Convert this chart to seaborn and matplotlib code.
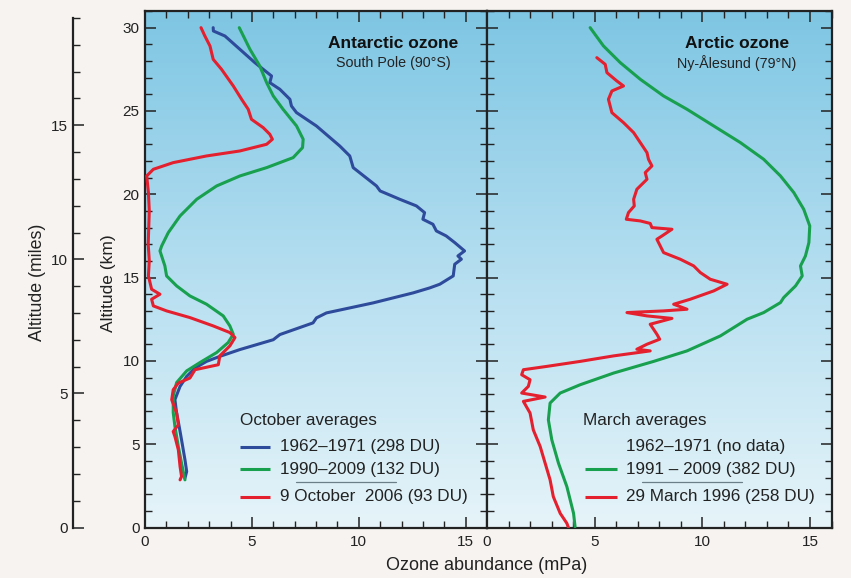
import numpy as np
import matplotlib
matplotlib.use("Agg")
import matplotlib.pyplot as plt
import seaborn as sns
from matplotlib.colors import LinearSegmentedColormap
from matplotlib.ticker import MultipleLocator

sns.set_style("ticks")
plt.rcParams['font.family'] = ['Liberation Sans', 'DejaVu Sans']

# ---------------- data (ozone abundance mPa, altitude km) ----------------
ant_1962_x = [3.19, 3.2, 3.74, 4.44, 5.14, 5.92, 5.84, 6.31, 6.78, 6.85, 7.09, 8.02, 9.11, 9.58, 9.74,
              10.83, 11.0, 11.92, 12.70, 13.08, 13.0, 13.47, 13.63, 14.09, 14.49, 14.95, 14.64, 14.8,
              14.49, 14.42, 13.79, 13.32, 12.54, 10.67, 8.49, 8.02, 7.86, 6.31, 6.0, 4.44, 3.5, 2.88,
              2.34, 1.95, 1.64, 1.40, 1.48, 1.60, 1.71, 1.87, 1.95, 1.87]
ant_1962_y = [30.0, 29.8, 29.5, 28.7, 27.9, 27.1, 26.7, 26.3, 25.7, 25.3, 24.9, 24.1, 22.9, 22.3, 21.6,
              20.5, 20.2, 19.7, 19.3, 18.9, 18.5, 18.2, 17.8, 17.5, 17.1, 16.6, 16.3, 16.1,
              15.8, 15.1, 14.6, 14.38, 14.08, 13.48, 12.88, 12.58, 12.28, 11.58, 11.27, 10.68, 10.27, 9.97,
              9.57, 9.07, 8.47, 7.67, 6.87, 6.06, 5.26, 4.06, 3.36, 2.96]

ant_1990_x = [4.41, 4.91, 5.37, 5.69, 6.0, 6.46, 7.09, 7.40, 7.37, 6.93, 5.69, 4.44, 3.35, 2.42, 1.64,
              1.09, 0.78, 0.70, 0.93, 1.01, 1.48, 1.79, 2.10, 2.88, 3.66, 3.97, 4.13, 3.89, 3.35, 2.57,
              1.95, 1.48, 1.32, 1.32, 1.40, 1.56, 1.71, 1.87]
ant_1990_y = [30.0, 28.7, 27.7, 26.7, 25.9, 25.1, 24.1, 23.3, 22.8, 22.2, 21.6, 21.1, 20.5, 19.7, 18.7,
              17.7, 16.9, 16.6, 15.7, 15.1, 14.5, 14.2, 13.9, 13.4, 12.7, 12.1, 11.6, 11.1, 10.5, 9.9,
              9.4, 8.7, 7.9, 6.9, 6.06, 4.86, 3.86, 2.86]

ant_2006_x = [2.62, 2.80, 3.04, 3.19, 3.58, 4.13, 4.52, 4.83, 4.98, 5.53, 5.84, 5.96, 5.69, 4.44, 2.88,
              1.32, 0.39, 0.08, 0.16, 0.20, 0.15, 0.20, 0.16, 0.31, 0.70, 0.31, 0.39, 1.01, 2.10, 3.19,
              3.97, 4.21, 3.97, 3.50, 3.43, 2.34, 2.10, 1.56, 1.32, 1.25, 1.48, 1.56, 1.32, 1.40, 1.56,
              1.64, 1.71, 1.64]
ant_2006_y = [30.0, 29.5, 28.9, 28.1, 27.5, 26.5, 25.7, 25.1, 24.5, 24.0, 23.6, 23.3, 23.0, 22.6, 22.3,
              21.9, 21.5, 21.1, 20.1, 19.0, 17.0, 16.0, 15.1, 14.3, 14.0, 13.7, 13.3, 13.0, 12.6, 12.1,
              11.7, 11.4, 10.9, 10.3, 9.77, 9.47, 8.97, 8.67, 8.27, 7.67, 6.87, 6.16, 5.76, 5.46, 4.66,
              3.66, 3.06, 2.86]

arc_1991_x = [4.79, 5.41, 6.19, 7.12, 8.20, 9.29, 10.53, 11.77, 12.85, 13.63, 14.25, 14.71, 14.99, 14.95,
              14.79, 14.56, 14.64, 14.33, 13.78, 13.63, 12.85, 12.08, 10.84, 9.29, 7.74, 5.88, 4.33,
              3.40, 2.93, 2.85, 3.01, 3.32, 3.71, 4.02, 4.09]
arc_1991_y = [30.0, 28.9, 27.9, 26.9, 25.9, 25.1, 24.1, 23.1, 22.1, 21.1, 20.1, 19.1, 18.1, 17.1,
              16.3, 15.7, 15.1, 14.5, 13.8, 13.5, 12.9, 12.5, 11.5, 10.6, 9.97, 9.27, 8.57,
              8.07, 7.47, 6.46, 5.26, 3.86, 2.45, 0.85, 0.05]

arc_1996_x = [5.10, 5.49, 5.57, 6.03, 6.34, 5.80, 5.64, 5.80, 6.34, 6.81, 7.12, 7.43, 7.50, 7.66, 7.35,
              7.43, 6.96, 6.81, 6.84, 6.57, 6.47, 7.12, 7.58, 7.66, 8.59, 8.13, 7.89, 8.20, 8.98, 9.60,
              9.91, 10.37, 11.15, 10.53, 9.44, 8.67, 9.29, 8.20, 6.50, 7.43, 8.59, 7.58, 7.89, 8.02,
              7.43, 6.96, 7.58, 5.88, 4.33, 2.78, 1.69, 1.61, 2.0, 1.92, 1.61, 2.70, 1.69, 2.0, 2.15,
              2.47, 2.70, 2.93, 3.08, 3.40, 3.71, 3.78]
arc_1996_y = [28.2, 27.8, 27.3, 26.8, 26.5, 26.2, 25.7, 24.9, 24.3, 23.7, 23.1, 22.5, 22.1, 21.7, 21.3,
              20.9, 20.3, 19.7, 19.3, 18.9, 18.5, 18.4, 18.25, 18.0, 17.9, 17.5, 17.3, 16.5, 16.1, 15.7,
              15.3, 14.9, 14.6, 14.2, 13.7, 13.4, 13.1, 13.0, 12.9, 12.7, 12.55, 12.2, 11.6, 11.3,
              11.0, 10.7, 10.6, 10.3, 9.97, 9.67, 9.47, 9.17, 8.87, 8.47, 8.07, 7.83, 7.57, 6.87, 5.86,
              4.86, 3.86, 2.86, 1.85, 0.85, 0.25, 0.0]

x_ticks = [0, 5, 10, 15]
km_ticks = [0, 5, 10, 15, 20, 25, 30]
mile_ticks = [0, 5, 10, 15]

ant_title = "Antarctic ozone"
ant_sub = "South Pole (90°S)"
arc_title = "Arctic ozone"
arc_sub = "Ny-Ålesund (79°N)"
ant_leg_title = "October averages"
arc_leg_title = "March averages"
ant_labels = ["1962\u20131971 (298 DU)", "1990\u20132009 (132 DU)", "9 October  2006 (93 DU)"]
arc_labels = ["1962\u20131971 (no data)", "1991 \u2013 2009 (382 DU)", "29 March 1996 (258 DU)"]

BLUE = "#2e4b9b"
GREEN = "#18a04e"
RED = "#e4202f"
BG = "#f6f3f0"

KM_PER_MILE = 1.609344

# ---------------- figure ----------------
W, H = 851, 578
fig = plt.figure(figsize=(W / 100, H / 100), dpi=100, facecolor=BG)
bot = (H - 527.5) / H
hgt = 516.5 / H
axL = fig.add_axes([145 / W, bot, 342 / W, hgt])
axR = fig.add_axes([487 / W, bot, 344.5 / W, hgt])
axM = fig.add_axes([73 / W, bot, 0.0001, hgt])

cmap = LinearSegmentedColormap.from_list("sky", ["#e6f4f9", "#b4def0", "#7ec6e3"])
grad = np.linspace(0, 1, 256).reshape(-1, 1)

for ax in (axL, axR):
    ax.imshow(grad, extent=[0, 16, 0, 31], origin="lower", aspect="auto", cmap=cmap, zorder=0)
    ax.set_xlim(0, 16)
    ax.set_ylim(0, 31)
    ax.set_xticks(x_ticks)
    ax.set_yticks(km_ticks)
    ax.xaxis.set_minor_locator(MultipleLocator(1))
    ax.yaxis.set_minor_locator(MultipleLocator(1))
    ax.tick_params(which="both", direction="in", top=True, right=True, color="#222222",
                   labelsize=11, labelcolor="#222222")
    ax.tick_params(which="major", length=8, width=1.1)
    ax.tick_params(which="minor", length=5, width=1.0)
    ax.tick_params(axis="x", pad=5.5)
    ax.tick_params(axis="y", pad=4)
    for s in ax.spines.values():
        s.set_linewidth(1.6)
        s.set_color("#222222")
    ax.set_xlabel("")
    ax.set_ylabel("")

axR.tick_params(labelleft=False)

lw = 2.2
kw = dict(sort=False, estimator=None, linewidth=lw, solid_joinstyle="round", zorder=3)
sns.lineplot(x=ant_1962_x, y=ant_1962_y, color=BLUE, ax=axL, **kw)
sns.lineplot(x=ant_1990_x, y=ant_1990_y, color=GREEN, ax=axL, **kw)
sns.lineplot(x=ant_2006_x, y=ant_2006_y, color=RED, ax=axL, **kw)
sns.lineplot(x=arc_1991_x, y=arc_1991_y, color=GREEN, ax=axR, **kw)
sns.lineplot(x=arc_1996_x, y=arc_1996_y, color=RED, ax=axR, **kw)
for ax in (axL, axR):
    ax.set_xlabel("")
    ax.set_ylabel("")

# titles
for ax, t, s in ((axL, ant_title, ant_sub), (axR, arc_title, arc_sub)):
    ax.text(0.725, 0.938, t, transform=ax.transAxes, ha="center", va="center",
            fontsize=12.5, fontweight="bold", color="#111111")
    ax.text(0.725, 0.899, s, transform=ax.transAxes, ha="center", va="center",
            fontsize=10.3, color="#222222")

# legends
def legend(ax, title, labels, colors, x_title, x_line0, x_line1, x_text, sep):
    ax.text(x_title, 0.208, title, transform=ax.transAxes, ha="left", va="center",
            fontsize=12.3, color="#222222")
    ys = [0.156, 0.113, 0.060]
    for y, lab, c in zip(ys, labels, colors):
        if c is not None:
            ax.plot([x_line0, x_line1], [y, y], transform=ax.transAxes, color=c, lw=lw,
                    solid_capstyle="butt", zorder=4)
        ax.text(x_text, y, lab, transform=ax.transAxes, ha="left", va="center",
                fontsize=12.3, color="#222222")
    ax.plot(sep, [0.088, 0.088], transform=ax.transAxes, color="#6b7f88", lw=0.9, zorder=4)

legend(axL, ant_leg_title, ant_labels, [BLUE, GREEN, RED], 0.278, 0.278, 0.365, 0.395, [0.442, 0.734])
legend(axR, arc_leg_title, arc_labels, [None, GREEN, RED], 0.279, 0.284, 0.377, 0.403, [0.449, 0.739])

# miles axis
axM.set_facecolor("none")
axM.set_ylim(0, 31 / KM_PER_MILE)
axM.set_xticks([])
for k in ("top", "right", "bottom"):
    axM.spines[k].set_visible(False)
axM.spines["left"].set_bounds(0, 19)
axM.spines["left"].set_linewidth(1.6)
axM.spines["left"].set_color("#222222")
axM.set_yticks(mile_ticks)
axM.yaxis.set_minor_locator(MultipleLocator(1))
axM.tick_params(which="both", direction="in", color="#222222", labelsize=11,
                labelcolor="#222222", pad=4)
axM.tick_params(which="major", length=8, width=1.1)
axM.tick_params(which="minor", length=5, width=1.0)

# axis labels
fig.text(487 / W, 1 - 565 / H, "Ozone abundance (mPa)", ha="center", va="center",
         fontsize=13, color="#222222")
fig.text(108 / W, 1 - 283 / H, "Altitude (km)", ha="center", va="center", rotation=90,
         fontsize=12.5, color="#222222")
fig.text(38 / W, 1 - 282 / H, "Altitude (miles)", ha="center", va="center", rotation=90,
         fontsize=12.8, color="#222222")

fig.savefig("out.png", dpi=100, facecolor=BG)
